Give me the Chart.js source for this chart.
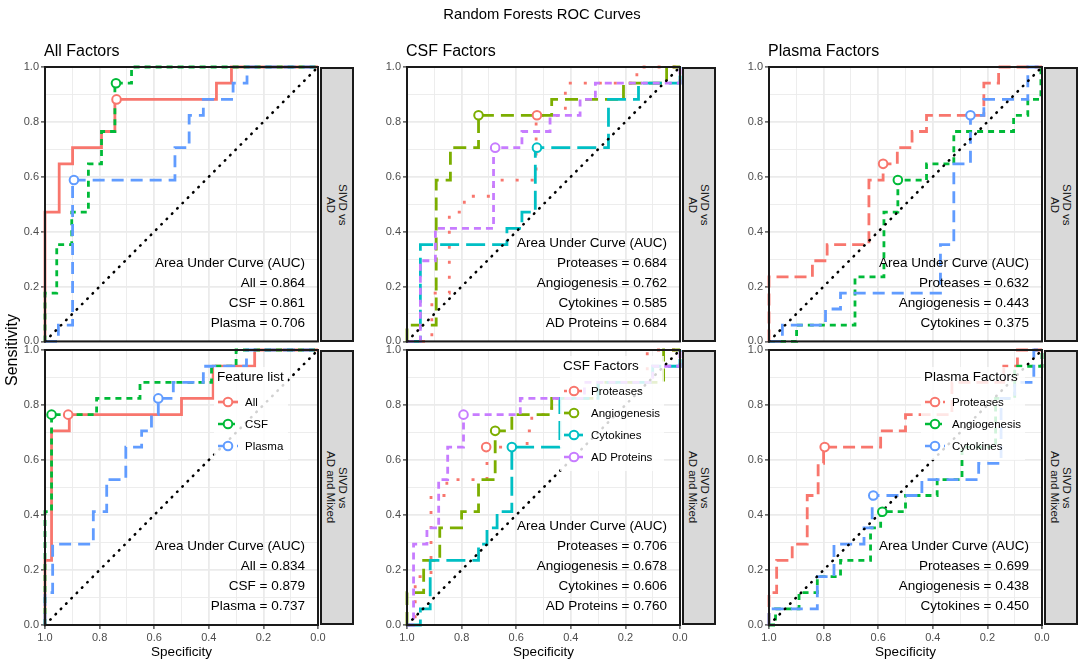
<!DOCTYPE html>
<html>
<head>
<meta charset="utf-8">
<script src="https://cdn.jsdelivr.net/npm/chart.js@4.4.1/dist/chart.umd.min.js"></script>
<style>
  body { margin: 0; background: #fff; }
  #wrap { position: relative; width: 1084px; height: 665px; overflow: hidden; font-family: "Liberation Sans", Arial, sans-serif; color: #000; }
  #wrap canvas { position: absolute; }
  .txt { position: absolute; white-space: nowrap; line-height: 1; }
  .strip { position: absolute; background: #d9d9d9; border: 2px solid #1a1a1a; box-sizing: border-box;
           display: flex; align-items: center; justify-content: center; }
  .strip span { writing-mode: vertical-rl; font-size: 11.5px; line-height: 12px; text-align: center; color: #1a1a1a; }
  .auc { position: absolute; text-align: right; font-size: 13.5px; line-height: 20px; white-space: nowrap; }
  .legend { position: absolute; background: rgba(255,255,255,0.82); padding: 0 4px 3px 3px; }
  .legend .lt { font-size: 13.5px; line-height: 20px; white-space: nowrap; margin-bottom: 4px; }
  .legend .lr { height: 22px; display: flex; align-items: center; font-size: 11.5px; white-space: nowrap; }
  .legend svg { margin-right: 6px; }
</style>
</head>
<body>
<div id="wrap"></div>
<script>
// ---- data (specificity, sensitivity) ----
const colTitles = ['All Factors', 'CSF Factors', 'Plasma Factors'];
const rowLabels = [['SIVD vs', 'AD'], ['SIVD vs', 'AD and Mixed']];
const legendTitles = ['Feature list', 'CSF Factors', 'Plasma Factors'];

const allNames = ['All', 'CSF', 'Plasma'];
const csfNames = ['Proteases', 'Angiogenesis', 'Cytokines', 'AD Proteins'];
const plasmaNames = ['Proteases', 'Angiogenesis', 'Cytokines'];

const allAucAD = [0.864, 0.861, 0.706];
const allAucMix = [0.834, 0.879, 0.737];
const csfAucAD = [0.684, 0.762, 0.585, 0.684];
const csfAucMix = [0.706, 0.678, 0.606, 0.760];
const plasmaAucAD = [0.632, 0.443, 0.375];
const plasmaAucMix = [0.699, 0.438, 0.450];

// All factors, SIVD vs AD
const allAD_all = [[1,0],[1,0.471],[0.948,0.471],[0.948,0.647],[0.899,0.647],[0.899,0.706],[0.793,0.706],[0.793,0.765],[0.744,0.765],[0.744,0.882],[0.372,0.882],[0.372,0.941],[0.317,0.941],[0.317,1],[0,1]];
const allAD_csf = [[1,0],[1,0.176],[0.957,0.176],[0.957,0.353],[0.902,0.353],[0.902,0.471],[0.841,0.471],[0.841,0.647],[0.793,0.647],[0.793,0.765],[0.744,0.765],[0.744,0.941],[0.683,0.941],[0.683,1],[0,1]];
const allAD_plasma = [[1,0],[0.951,0],[0.951,0.059],[0.899,0.059],[0.899,0.588],[0.524,0.588],[0.524,0.706],[0.472,0.706],[0.472,0.824],[0.42,0.824],[0.42,0.882],[0.311,0.882],[0.311,0.941],[0.26,0.941],[0.26,1],[0,1]];
const allAD_best = [[0.738,0.882],[0.74,0.941],[0.894,0.588]];

// All factors, SIVD vs AD and Mixed
const allMix_all = [[1,0],[1,0.235],[0.976,0.235],[0.976,0.706],[0.911,0.706],[0.911,0.765],[0.5,0.765],[0.5,0.824],[0.384,0.824],[0.384,0.941],[0.232,0.941],[0.232,1],[0,1]];
const allMix_csf = [[1,0],[1,0.412],[0.976,0.412],[0.976,0.765],[0.811,0.765],[0.811,0.824],[0.652,0.824],[0.652,0.882],[0.39,0.882],[0.39,0.941],[0.3,0.941],[0.3,1],[0,1]];
const allMix_plasma = [[1,0],[1,0.118],[0.972,0.118],[0.972,0.294],[0.823,0.294],[0.823,0.412],[0.774,0.412],[0.774,0.529],[0.704,0.529],[0.704,0.647],[0.646,0.647],[0.646,0.706],[0.61,0.706],[0.61,0.765],[0.585,0.765],[0.585,0.824],[0.53,0.824],[0.53,0.882],[0.42,0.882],[0.42,0.941],[0.262,0.941],[0.262,1],[0,1]];
const allMix_best = [[0.915,0.765],[0.976,0.765],[0.585,0.824]];

// CSF factors, SIVD vs AD
const csfAD_prot = [[1,0],[0.909,0],[0.909,0.176],[0.845,0.176],[0.845,0.471],[0.79,0.471],[0.79,0.529],[0.683,0.529],[0.683,0.588],[0.527,0.588],[0.527,0.824],[0.42,0.824],[0.42,0.941],[0.158,0.941],[0.158,1],[0,1]];
const csfAD_angio = [[1,0],[1,0.059],[0.893,0.059],[0.893,0.588],[0.841,0.588],[0.841,0.706],[0.738,0.706],[0.738,0.824],[0.47,0.824],[0.47,0.882],[0.207,0.882],[0.207,0.941],[0.049,0.941],[0.049,1],[0,1]];
const csfAD_cyto = [[1,0],[0.951,0],[0.951,0.353],[0.634,0.353],[0.634,0.412],[0.579,0.412],[0.579,0.471],[0.53,0.471],[0.53,0.706],[0.262,0.706],[0.262,0.882],[0.152,0.882],[0.152,0.941],[0,0.941],[0,1]];
const csfAD_adp = [[1,0],[0.951,0],[0.951,0.294],[0.896,0.294],[0.896,0.412],[0.683,0.412],[0.683,0.706],[0.579,0.706],[0.579,0.765],[0.476,0.765],[0.476,0.824],[0.366,0.824],[0.366,0.882],[0.31,0.882],[0.31,0.941],[0,0.941],[0,1]];
const csfAD_best = [[0.524,0.824],[0.738,0.824],[0.524,0.706],[0.677,0.706]];

// CSF factors, SIVD vs AD and Mixed
const csfMix_prot = [[1,0],[0.97,0],[0.97,0.176],[0.912,0.176],[0.912,0.471],[0.854,0.471],[0.854,0.529],[0.707,0.529],[0.707,0.647],[0.56,0.647],[0.56,0.706],[0.543,0.706],[0.543,0.765],[0.47,0.765],[0.47,0.824],[0.3,0.824],[0.3,0.882],[0.12,0.882],[0.12,1],[0,1]];
const csfMix_angio = [[1,0],[1,0.118],[0.939,0.118],[0.939,0.235],[0.88,0.235],[0.88,0.353],[0.8,0.353],[0.8,0.412],[0.738,0.412],[0.738,0.529],[0.677,0.529],[0.677,0.706],[0.616,0.706],[0.616,0.765],[0.47,0.765],[0.47,0.824],[0.3,0.824],[0.3,0.882],[0.06,0.882],[0.06,1],[0,1]];
const csfMix_cyto = [[1,0],[0.951,0],[0.951,0.059],[0.915,0.059],[0.915,0.235],[0.738,0.235],[0.738,0.294],[0.707,0.294],[0.707,0.353],[0.67,0.353],[0.67,0.412],[0.616,0.412],[0.616,0.647],[0.44,0.647],[0.44,0.824],[0.3,0.824],[0.3,0.882],[0.1,0.882],[0.1,0.941],[0,0.941],[0,1]];
const csfMix_adp = [[1,0],[0.976,0],[0.976,0.294],[0.927,0.294],[0.927,0.353],[0.884,0.353],[0.884,0.529],[0.851,0.529],[0.851,0.647],[0.793,0.647],[0.793,0.765],[0.585,0.765],[0.585,0.824],[0.35,0.824],[0.35,0.882],[0.1,0.882],[0.1,0.941],[0,0.941],[0,1]];
const csfMix_best = [[0.71,0.647],[0.677,0.706],[0.616,0.647],[0.793,0.765]];

// Plasma factors, SIVD vs AD
const plasmaAD_prot = [[1,0],[1,0.235],[0.841,0.235],[0.841,0.294],[0.787,0.294],[0.787,0.353],[0.634,0.353],[0.634,0.588],[0.582,0.588],[0.582,0.647],[0.53,0.647],[0.53,0.706],[0.476,0.706],[0.476,0.765],[0.423,0.765],[0.423,0.824],[0.213,0.824],[0.213,0.941],[0.159,0.941],[0.159,1],[0,1]];
const plasmaAD_angio = [[1,0],[0.899,0],[0.899,0.059],[0.685,0.059],[0.685,0.235],[0.579,0.235],[0.579,0.471],[0.528,0.471],[0.528,0.588],[0.423,0.588],[0.423,0.647],[0.323,0.647],[0.323,0.765],[0.104,0.765],[0.104,0.824],[0.052,0.824],[0.052,0.882],[0.004,0.882],[0.004,1],[0,1]];
const plasmaAD_cyto = [[1,0],[0.951,0],[0.951,0.059],[0.793,0.059],[0.793,0.118],[0.738,0.118],[0.738,0.176],[0.372,0.176],[0.372,0.353],[0.323,0.353],[0.323,0.647],[0.262,0.647],[0.262,0.824],[0.213,0.824],[0.213,0.882],[0.052,0.882],[0.052,1],[0,1]];
const plasmaAD_best = [[0.582,0.647],[0.528,0.588],[0.262,0.824]];

// Plasma factors, SIVD vs AD and Mixed
const plasmaMix_prot = [[1,0],[1,0.118],[0.972,0.118],[0.972,0.235],[0.915,0.235],[0.915,0.294],[0.86,0.294],[0.86,0.471],[0.82,0.471],[0.82,0.588],[0.8,0.588],[0.8,0.647],[0.591,0.647],[0.591,0.706],[0.5,0.706],[0.5,0.765],[0.33,0.765],[0.33,0.882],[0.14,0.882],[0.14,0.941],[0.09,0.941],[0.09,1],[0,1]];
const plasmaMix_angio = [[1,0],[0.976,0],[0.976,0.059],[0.89,0.059],[0.89,0.118],[0.823,0.118],[0.823,0.176],[0.738,0.176],[0.738,0.235],[0.628,0.235],[0.628,0.353],[0.591,0.353],[0.591,0.412],[0.5,0.412],[0.5,0.471],[0.384,0.471],[0.384,0.529],[0.293,0.529],[0.293,0.647],[0.17,0.647],[0.17,0.824],[0.1,0.824],[0.1,0.941],[0,0.941],[0,1]];
const plasmaMix_cyto = [[1,0],[1,0.059],[0.823,0.059],[0.823,0.176],[0.762,0.176],[0.762,0.294],[0.652,0.294],[0.652,0.353],[0.622,0.353],[0.622,0.471],[0.44,0.471],[0.44,0.529],[0.232,0.529],[0.232,0.588],[0.15,0.588],[0.15,0.824],[0.1,0.824],[0.1,0.882],[0.03,0.882],[0.03,1],[0,1]];
const plasmaMix_best = [[0.796,0.647],[0.585,0.412],[0.618,0.471]];

// ---- styles ----
const hue3 = ['#F8766D', '#00BA38', '#619CFF'];
const hue4 = ['#F8766D', '#7CAE00', '#00BFC4', '#C77CFF'];
const allDashes = [[], [6, 5], [12, 7]];
const csfDashes = [[3, 12], [13, 7], [19, 7], [7, 5]];
const plasmaDashes = [[12, 6], [6, 5], [12, 7]];

const FONT = '"Liberation Sans", Arial, sans-serif';
const plotLefts = [45, 407, 769];
const plotTops = [67, 350];
const PW = 273, PH = 275;

const panels = [
  { names: allNames, colors: hue3, dashes: allDashes, rows: [
    { curves: [allAD_all, allAD_csf, allAD_plasma], best: allAD_best, auc: allAucAD },
    { curves: [allMix_all, allMix_csf, allMix_plasma], best: allMix_best, auc: allAucMix }] },
  { names: csfNames, colors: hue4, dashes: csfDashes, rows: [
    { curves: [csfAD_prot, csfAD_angio, csfAD_cyto, csfAD_adp], best: csfAD_best, auc: csfAucAD },
    { curves: [csfMix_prot, csfMix_angio, csfMix_cyto, csfMix_adp], best: csfMix_best, auc: csfAucMix }] },
  { names: plasmaNames, colors: hue3, dashes: plasmaDashes, rows: [
    { curves: [plasmaAD_prot, plasmaAD_angio, plasmaAD_cyto], best: plasmaAD_best, auc: plasmaAucAD },
    { curves: [plasmaMix_prot, plasmaMix_angio, plasmaMix_cyto], best: plasmaMix_best, auc: plasmaAucMix }] }
];

const wrap = document.getElementById('wrap');

function addText(text, css) {
  const d = document.createElement('div');
  d.className = 'txt';
  d.textContent = text;
  Object.assign(d.style, css);
  wrap.appendChild(d);
  return d;
}

function isMajor(v) { return Math.round(v * 10) % 2 === 0; }

// black panel border, drawn over the curves like ggplot does
const frame = {
  id: 'frame',
  afterDraw(chart) {
    const a = chart.chartArea, ctx = chart.ctx;
    ctx.save();
    ctx.strokeStyle = '#1a1a1a';
    ctx.lineWidth = 2;
    ctx.strokeRect(a.left, a.top, a.right - a.left, a.bottom - a.top);
    ctx.restore();
  }
};

function axisOpts(showTicks, isX) {
  return {
    type: 'linear', min: 0, max: 1, reverse: isX,
    afterFit: s => { if (isX) s.height = showTicks ? 28 : 0; else s.width = 45; },
    ticks: {
      display: showTicks, stepSize: 0.1, autoSkip: false, maxRotation: 0, padding: 2,
      color: '#4d4d4d', font: { family: FONT, size: 11 },
      callback: v => isMajor(v) ? v.toFixed(1) : ''
    },
    grid: {
      color: '#ebebeb', drawTicks: showTicks, tickLength: 4, tickWidth: 1.2,
      lineWidth: c => (c.tick && isMajor(c.tick.value)) ? 1.8 : 0.9,
      tickColor: c => (c.tick && isMajor(c.tick.value)) ? '#333333' : 'rgba(0,0,0,0)'
    },
    border: { display: false }
  };
}

panels.forEach((p, c) => {
  p.rows.forEach((row, r) => {
    const left = plotLefts[c], top = plotTops[r];
    const cv = document.createElement('canvas');
    cv.width = 45 + PW + 36;
    cv.height = 10 + PH + (r === 1 ? 28 : 8);
    cv.style.left = (left - 45) + 'px';
    cv.style.top = (top - 10) + 'px';
    wrap.appendChild(cv);

    const datasets = [];
    row.best.forEach((pt, i) => datasets.push({
      data: [{ x: pt[0], y: pt[1] }], showLine: false, pointRadius: 4.3, pointBorderWidth: 2,
      pointBorderColor: p.colors[i], pointBackgroundColor: '#ffffff', order: 0, clip: 8
    }));
    datasets.push({
      data: [{ x: 1, y: 0 }, { x: 0, y: 1 }], borderColor: '#000', borderWidth: 2.6,
      borderDash: [0.5, 7], borderCapStyle: 'round', pointRadius: 0, order: 1, clip: 4
    });
    row.curves.forEach((cur, i) => datasets.push({
      data: cur.map(q => ({ x: q[0], y: q[1] })), borderColor: p.colors[i], borderWidth: 2.8,
      borderDash: p.dashes[i], borderCapStyle: 'butt', pointRadius: 0, tension: 0,
      order: 10 - i, clip: 4
    }));

    new Chart(cv, {
      type: 'line',
      data: { datasets },
      options: {
        responsive: false, animation: false, events: [],
        layout: { padding: { left: 0, top: 10, right: 36, bottom: r === 1 ? 0 : 8 } },
        plugins: { legend: { display: false }, tooltip: { enabled: false } },
        scales: { x: axisOpts(r === 1, true), y: axisOpts(true, false) }
      },
      plugins: [frame]
    });

    // facet strip on the right
    const st = document.createElement('div');
    st.className = 'strip';
    Object.assign(st.style, { left: (left + PW + 2) + 'px', top: top + 'px', width: '34px', height: PH + 'px' });
    const sp = document.createElement('span');
    sp.innerHTML = rowLabels[r].join('<br>');
    st.appendChild(sp);
    wrap.appendChild(st);

    // AUC annotation
    const lines = ['Area Under Curve (AUC)'].concat(p.names.map((n, i) => n + ' = ' + row.auc[i].toFixed(3)));
    const au = document.createElement('div');
    au.className = 'auc';
    au.innerHTML = lines.join('<br>');
    const lastCenter = top + 256;
    Object.assign(au.style, { right: (1084 - (left + 260)) + 'px', top: (lastCenter + 10 - 20 * lines.length) + 'px' });
    wrap.appendChild(au);

    // legend in the lower panel
    if (r === 1) {
      const lg = document.createElement('div');
      lg.className = 'legend';
      const nRows = p.names.length;
      const titleCenter = top + (nRows === 4 ? 16 : 27);
      const lgLeft = [214, 560, 921][c];
      Object.assign(lg.style, { left: lgLeft + 'px', top: (titleCenter - 10) + 'px' });
      let html = '<div class="lt">' + legendTitles[c] + '</div>';
      p.names.forEach((n, i) => {
        const dash = p.dashes[i].length ? ' stroke-dasharray="' + p.dashes[i].join(',') + '"' : '';
        html += '<div class="lr"><svg width="22" height="14"><line x1="1" y1="7" x2="21" y2="7" stroke="' + p.colors[i] +
          '" stroke-width="2.7"' + dash + '/><circle cx="11" cy="7" r="4.3" fill="#fff" stroke="' + p.colors[i] +
          '" stroke-width="2"/></svg><span>' + n + '</span></div>';
      });
      lg.innerHTML = html;
      wrap.appendChild(lg);
      addText('Specificity', { left: (left + PW / 2) + 'px', top: '645px', fontSize: '13.5px', transform: 'translateX(-50%)' });
    }
  });
  addText(colTitles[c], { left: (plotLefts[c] - 1) + 'px', top: '43px', fontSize: '16px' });
});

addText('Random Forests ROC Curves', { left: '542px', top: '7px', fontSize: '14.8px', transform: 'translateX(-50%)' });
addText('Sensitivity', { left: '12px', top: '350px', fontSize: '16px', transform: 'translate(-50%,-50%) rotate(-90deg)' });
</script>
</body>
</html>
